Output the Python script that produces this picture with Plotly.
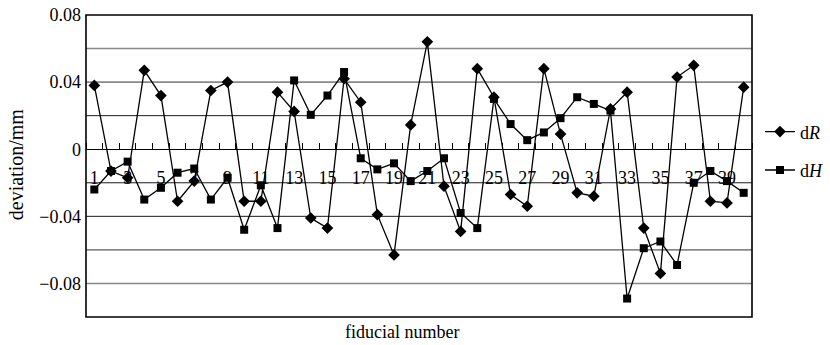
import plotly.graph_objects as go

fiducial = list(range(1, 41))
dR = [0.038, -0.013, -0.017, 0.047, 0.032, -0.031, -0.019, 0.035, 0.040, -0.031,
      -0.031, 0.034, 0.0225, -0.041, -0.047, 0.042, 0.028, -0.039, -0.063, 0.0145,
      0.064, -0.022, -0.049, 0.048, 0.031, -0.027, -0.034, 0.048, 0.009, -0.026,
      -0.028, 0.024, 0.034, -0.047, -0.074, 0.043, 0.050, -0.031, -0.032, 0.037]
dH = [-0.024, -0.013, -0.0074, -0.030, -0.023, -0.014, -0.0115, -0.030, -0.017, -0.048,
      -0.0215, -0.047, 0.041, 0.0205, 0.032, 0.046, -0.0054, -0.012, -0.0084, -0.019,
      -0.013, -0.0054, -0.038, -0.047, 0.030, 0.015, 0.0054, 0.010, 0.0185, 0.031,
      0.027, 0.023, -0.089, -0.059, -0.055, -0.069, -0.020, -0.013, -0.019, -0.026]
x_ticks = list(range(1, 41, 2))
x_ticktext = [str(v) for v in x_ticks]
y_ticks = [-0.08, -0.04, 0, 0.04, 0.08]
y_ticktext = ["\u22120.08", "\u22120.04", "0", "0.04", "0.08"]
grid_gray = [0.06, 0.04, -0.06, -0.08]
grid_black = [0.02, -0.02, -0.04]

FONT = "Liberation Serif"
y_min, y_max = -0.1, 0.08

fig = go.Figure()
fig.add_trace(go.Scatter(
    x=fiducial, y=dR, mode="lines+markers", name="d<i>R</i>", legendgroup="a",
    line=dict(color="black", width=1.3),
    marker=dict(symbol="diamond", size=9, color="black"),
))
fig.add_trace(go.Scatter(
    x=fiducial, y=dH, mode="lines+markers", name="d<i>H</i>", legendgroup="b",
    line=dict(color="black", width=1.3),
    marker=dict(symbol="square", size=8, color="black"),
))

shapes = []
for g in grid_gray:
    shapes.append(dict(type="line", xref="paper", yref="y", x0=0, x1=1, y0=g, y1=g,
                       line=dict(color="#888888", width=1.6), layer="below"))
for g in grid_black:
    shapes.append(dict(type="line", xref="paper", yref="y", x0=0, x1=1, y0=g, y1=g,
                       line=dict(color="#1a1a1a", width=1), layer="below"))
shapes.append(dict(type="rect", xref="paper", yref="paper", x0=0, x1=1, y0=0, y1=1,
                   line=dict(color="black", width=1.6), layer="above"))

fig.update_layout(
    width=830, height=345,
    margin=dict(l=86, r=78, t=15, b=28, autoexpand=False),
    paper_bgcolor="white", plot_bgcolor="white",
    font=dict(family=FONT, size=17, color="black"),
    shapes=shapes,
    showlegend=True,
    legend=dict(x=1.012, y=0.55, xanchor="left", yanchor="middle",
                tracegroupgap=12, traceorder="grouped",
                font=dict(family=FONT, size=18, color="black"),
                bgcolor="rgba(0,0,0,0)"),
    xaxis=dict(
        range=[0.5, 40.5], anchor="free", position=(0 - y_min) / (y_max - y_min),
        tickmode="array", tickvals=x_ticks, ticktext=x_ticktext,
        ticks="outside", ticklen=12, tickcolor="rgba(0,0,0,0)", automargin=False,
        showline=True, linecolor="black", linewidth=1,
        showgrid=False, zeroline=False,
        tickfont=dict(family=FONT, size=18, color="black"),
        minor=dict(ticks="inside", ticklen=6, tickwidth=1, tickcolor="black",
                   tickmode="linear", tick0=0.5, dtick=1, showgrid=False),
    ),
    yaxis=dict(
        range=[y_min, y_max], tickmode="array", tickvals=y_ticks, ticktext=y_ticktext,
        ticks="", showgrid=False, zeroline=False, showline=False, automargin=False,
        tickfont=dict(family=FONT, size=18, color="black"),
        ticklabelstandoff=4,
    ),
    annotations=[
        dict(text="fiducial number", xref="paper", yref="paper", x=0.474, y=-0.051,
             xanchor="center", yanchor="middle", showarrow=False,
             font=dict(family=FONT, size=18, color="black")),
        dict(text="deviation/mm", xref="paper", yref="paper", x=-0.104, y=0.505,
             xanchor="center", yanchor="middle", textangle=-90, showarrow=False,
             font=dict(family=FONT, size=20, color="black")),
    ],
)

fig.write_html("out.html", config={"displayModeBar": False},
               post_script="document.body.style.margin='0';")
